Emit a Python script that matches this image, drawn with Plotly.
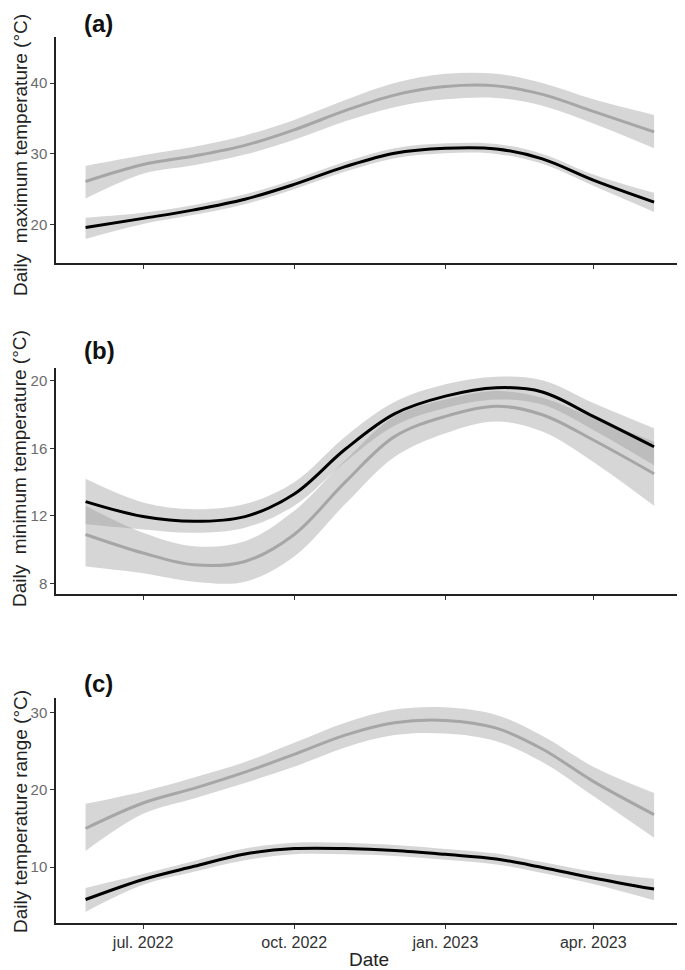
import plotly.graph_objects as go

# ---- data ----
dates = ['2022-05-27', '2022-07-01', '2022-08-01', '2022-09-01', '2022-10-01', '2022-11-01',
         '2022-12-01', '2023-01-01', '2023-02-01', '2023-03-01', '2023-04-01', '2023-05-08']

# (a) daily maximum temperature
max_gray = [26.1, 28.5, 29.7, 31.2, 33.4, 36.1, 38.3, 39.5, 39.6, 38.4, 36.0, 33.1]
max_gray_lo = [23.7, 27.2, 28.4, 29.9, 32.0, 34.6, 36.6, 37.7, 37.9, 36.8, 34.3, 30.8]
max_gray_hi = [28.3, 29.8, 31.0, 32.6, 34.8, 37.6, 40.0, 41.3, 41.3, 40.0, 37.7, 35.5]
max_black = [19.6, 20.9, 22.1, 23.6, 25.7, 28.2, 30.1, 30.8, 30.7, 29.3, 26.3, 23.2]
max_black_lo = [18.0, 20.1, 21.4, 22.9, 25.0, 27.5, 29.4, 30.1, 30.0, 28.6, 25.5, 21.8]
max_black_hi = [21.0, 21.7, 22.8, 24.3, 26.4, 28.9, 30.8, 31.5, 31.4, 30.0, 27.1, 24.5]

# (b) daily minimum temperature
min_black = [12.85, 11.96, 11.68, 11.96, 13.3, 15.95, 18.05, 19.1, 19.6, 19.35, 17.9, 16.1]
min_black_lo = [11.5, 11.2, 11.0, 11.3, 12.6, 15.2, 17.35, 18.4, 18.9, 18.6, 17.1, 15.0]
min_black_hi = [14.2, 12.8, 12.4, 12.7, 14.0, 16.7, 18.75, 19.8, 20.25, 20.05, 18.7, 17.2]
min_gray = [10.9, 9.8, 9.1, 9.3, 10.9, 14.0, 16.7, 17.9, 18.5, 18.0, 16.5, 14.5]
min_gray_lo = [9.0, 8.6, 8.1, 8.1, 9.6, 12.7, 15.5, 16.9, 17.6, 17.0, 15.2, 12.6]
min_gray_hi = [12.6, 11.0, 10.2, 10.5, 12.3, 15.3, 17.9, 18.9, 19.4, 19.0, 17.8, 16.4]

# (c) daily temperature range
rng_gray = [15.0, 18.3, 20.2, 22.3, 24.6, 27.1, 28.7, 29.0, 28.0, 25.3, 21.1, 16.8]
rng_gray_lo = [12.1, 16.9, 18.9, 20.9, 23.0, 25.5, 27.1, 27.3, 26.3, 23.6, 19.2, 13.8]
rng_gray_hi = [18.2, 19.8, 21.6, 23.6, 26.1, 28.7, 30.4, 30.7, 29.7, 27.0, 23.0, 19.6]
rng_black = [5.8, 8.4, 10.1, 11.7, 12.4, 12.4, 12.15, 11.65, 11.05, 9.95, 8.6, 7.15]
rng_black_lo = [4.2, 7.7, 9.4, 10.9, 11.65, 11.65, 11.45, 10.95, 10.35, 9.25, 7.8, 5.7]
rng_black_hi = [7.3, 9.1, 10.8, 12.4, 13.15, 13.15, 12.85, 12.35, 11.75, 10.65, 9.4, 8.5]

x_tickvals = ['2022-07-01', '2022-10-01', '2023-01-01', '2023-04-01']
x_ticktext = ['jul. 2022', 'oct. 2022', 'jan. 2023', 'apr. 2023']
x_range = ['2022-05-09', '2023-05-25']

panel_labels = ['(a)', '(b)', '(c)']
y_titles = ['Daily\u00a0 maximum temperature (°C)',
            'Daily\u00a0 minimum temperature (°C)',
            'Daily temperature range (°C)']
y_tickvals = [[20, 30, 40], [8, 12, 16, 20], [10, 20, 30]]
y_ranges = [[14.6, 46.5], [7.37, 20.77], [2.76, 31.9]]

panels = [
    [(max_gray, max_gray_lo, max_gray_hi, '#a6a6a6'), (max_black, max_black_lo, max_black_hi, '#000000')],
    [(min_gray, min_gray_lo, min_gray_hi, '#a6a6a6'), (min_black, min_black_lo, min_black_hi, '#000000')],
    [(rng_gray, rng_gray_lo, rng_gray_hi, '#a6a6a6'), (rng_black, rng_black_lo, rng_black_hi, '#000000')],
]

BAND = 'rgba(153,153,153,0.4)'
FONT = 'Liberation Sans, Arial, sans-serif'

fig = go.Figure()
for i, series in enumerate(panels):
    xa = 'x' if i == 0 else f'x{i+1}'
    ya = 'y' if i == 0 else f'y{i+1}'
    for vals, lo, hi, col in series:
        fig.add_trace(go.Scatter(x=dates, y=hi, mode='lines', line=dict(width=0, shape='spline'),
                                 xaxis=xa, yaxis=ya, showlegend=False, hoverinfo='skip'))
        fig.add_trace(go.Scatter(x=dates, y=lo, mode='lines', line=dict(width=0, shape='spline'),
                                 fill='tonexty', fillcolor=BAND,
                                 xaxis=xa, yaxis=ya, showlegend=False, hoverinfo='skip'))
    for vals, lo, hi, col in series:
        fig.add_trace(go.Scatter(x=dates, y=vals, mode='lines',
                                 line=dict(color=col, width=3, shape='spline'),
                                 xaxis=xa, yaxis=ya, showlegend=False))

# the page body adds an 8 px offset; figure pixel = screenshot pixel - 8
OFF = 8
W, HGT = 685 - OFF, 970 - OFF
L, R = 56 - OFF, 682 - OFF
T, B = 37 - OFF, 923 - OFF
H = B - T
PW = R - L


def py(p):
    return (B - (p - OFF)) / H


def px(p):
    return ((p - OFF) - L) / PW


domains = [[py(263), py(37)], [py(594), py(368)], [py(923), py(698)]]
title_centers = [155, 469, 812]
title_sizes = [19, 19, 19]
label_centers = [23, 351, 683]

layout = dict(
    width=W, height=HGT,
    margin=dict(l=L, r=W - R, t=T, b=HGT - B, autoexpand=False),
    paper_bgcolor='white', plot_bgcolor='white',
    font=dict(family=FONT, color='#222'),
    annotations=[],
)
for i in range(3):
    xk = 'xaxis' if i == 0 else f'xaxis{i+1}'
    yk = 'yaxis' if i == 0 else f'yaxis{i+1}'
    ya = 'y' if i == 0 else f'y{i+1}'
    xa = 'x' if i == 0 else f'x{i+1}'
    layout[xk] = dict(
        type='date', range=x_range, domain=[0, 1], anchor=ya,
        tickmode='array', tickvals=x_tickvals,
        ticktext=x_ticktext if i == 2 else [''] * 4,
        showticklabels=(i == 2),
        ticks='outside', ticklen=4, tickwidth=1.2, tickcolor='#333',
        showline=True, linecolor='#222', linewidth=1.5,
        showgrid=False, zeroline=False, automargin=False,
        tickfont=dict(size=16, color='#333', family=FONT),
    )
    layout[yk] = dict(
        range=y_ranges[i], domain=domains[i], anchor=xa,
        tickmode='array', tickvals=y_tickvals[i],
        ticks='outside', ticklen=4, tickwidth=1.2, tickcolor='#333',
        showline=True, linecolor='#222', linewidth=1.5,
        showgrid=False, zeroline=False, automargin=False,
        tickfont=dict(size=15, color='#6b6b6b', family=FONT),
    )
    layout['annotations'].append(dict(
        text=y_titles[i], xref='paper', yref='paper',
        x=px(20), y=py(title_centers[i]),
        xanchor='center', yanchor='middle', textangle=-90, showarrow=False,
        font=dict(size=title_sizes[i], color='#222', family=FONT)))
    layout['annotations'].append(dict(
        text='<b>' + panel_labels[i] + '</b>', xref='paper', yref='paper',
        x=px(82), y=py(label_centers[i]),
        xanchor='left', yanchor='middle', showarrow=False,
        font=dict(size=24, color='#111', family=FONT)))

layout['annotations'].append(dict(
    text='Date', xref='paper', yref='paper', x=px(369), y=py(960),
    xanchor='center', yanchor='middle', showarrow=False,
    font=dict(size=19, color='#222', family=FONT)))

fig.update_layout(**layout)
fig.write_html('out.html')
